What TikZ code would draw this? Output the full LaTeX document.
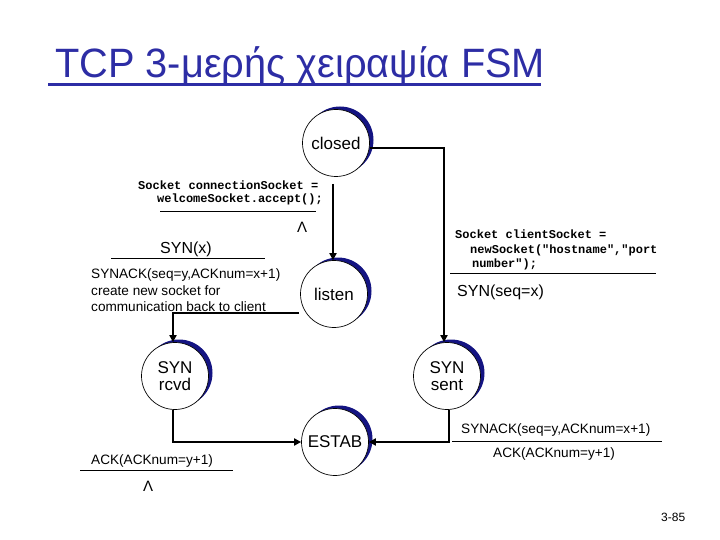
\documentclass[tikz,border=0pt]{standalone}
\usepackage{fontspec}
\setmainfont{Liberation Sans}
\newfontfamily\codefont{Liberation Mono}
\usetikzlibrary{arrows.meta,shadows}
\definecolor{titleblue}{RGB}{45,45,165}
\definecolor{shadowblue}{RGB}{20,20,130}
\begin{document}
\begin{tikzpicture}[x=1pt,y=-1pt,
 state/.style={circle,draw=black,line width=0.7pt,fill=white,minimum size=67pt,inner sep=0pt,
   font=\fontsize{17}{17}\selectfont,align=center,
   drop shadow={shadow xshift=4pt,shadow yshift=3pt,fill=shadowblue,opacity=1}},
 conn/.style={line width=2pt,-{Triangle[length=7pt,width=7pt]}},
 lbl/.style={inner sep=0pt,anchor=base west,font=\fontsize{13.6}{16.5}\selectfont},
 biglbl/.style={inner sep=0pt,anchor=base west,font=\fontsize{16}{18}\selectfont},
 code/.style={inner sep=0pt,anchor=base west,font=\codefont\bfseries\fontsize{12}{14}\selectfont},
 lam/.style={inner sep=0pt,anchor=base west,font=\fontsize{15}{15}\selectfont},
 rulel/.style={line width=0.8pt}]
\useasboundingbox (0,0) rectangle (720,540);
\fill[white] (0,0) rectangle (720,540);

% title
\node[anchor=base west,inner sep=0pt,text=titleblue,font=\fontsize{41}{45}\selectfont] (title) at (55,78) {\scalebox{0.97}[1]{TCP 3-μερής χειραψία FSM}};
\draw[titleblue,line width=3pt] (48,85) -- (541,85);

% states
\node[state] (closed) at (336,143) {closed};
\node[state] (listen) at (334,294) {listen};
\node[state] (synrcvd) at (175,376) {SYN\\rcvd};
\node[state] (synsent) at (447,376) {SYN\\sent};
\node[state] (estab) at (335,442) {ESTAB};

% connectors
\draw[conn] ([yshift=-5pt]closed.east) -| ([xshift=-3pt]synsent.north);
\draw[conn,shorten <=7pt] ([xshift=-3pt]closed.south) -- ([xshift=-3pt]closed.south |- listen.north);
\draw[conn] ([yshift=-19pt,xshift=-1pt]listen.west) -| ([xshift=-2pt]synrcvd.north);
\draw[conn] ([xshift=-2pt]synrcvd.south) |- (estab.west);
\draw[conn] ([xshift=2pt]synsent.south) |- (estab.east);

% closed -> listen label
\node[code] (c1) at (138,190) {Socket connectionSocket =};
\node[code] (c2) at (157,203) {welcomeSocket.accept();};
\draw[rulel] (160,211) -- (316,211);
\node[lam] (lam1) at (297,233) {Λ};

% listen -> SYN rcvd label
\node[biglbl] (synx) at (160,253) {SYN(x)};
\draw[rulel] (111,258) -- (265,258);
\node[lbl] (sa1) at (91,278) {SYNACK(seq=y,ACKnum=x+1)};
\node[lbl] (sa2) at (91,295) {create new socket for};
\node[lbl] (sa3) at (91,311) {communication back to client};

% closed -> SYN sent label
\node[code] (d1) at (455,239) {Socket clientSocket =};
\node[code] (d2) at (470,253) {newSocket("hostname","port};
\node[code] (d3) at (472,267) {number");};
\draw[rulel] (450,273) -- (656,273);
\node[biglbl] (synseq) at (457,296) {SYN(seq=x)};

% SYN sent -> ESTAB label
\node[lbl] (r1) at (461,433) {SYNACK(seq=y,ACKnum=x+1)};
\draw[rulel] (452,441) -- (662,441);
\node[lbl] (r2) at (493,457) {ACK(ACKnum=y+1)};

% SYN rcvd -> ESTAB label
\node[lbl] (l1) at (91,464) {ACK(ACKnum=y+1)};
\draw[rulel] (80,470) -- (233,470);
\node[lam] (lam2) at (143,491) {Λ};

% page number
\node[inner sep=0pt,anchor=base west,font=\fontsize{12}{12}\selectfont] (pg) at (661,521) {3-85};
\end{tikzpicture}
\end{document}
